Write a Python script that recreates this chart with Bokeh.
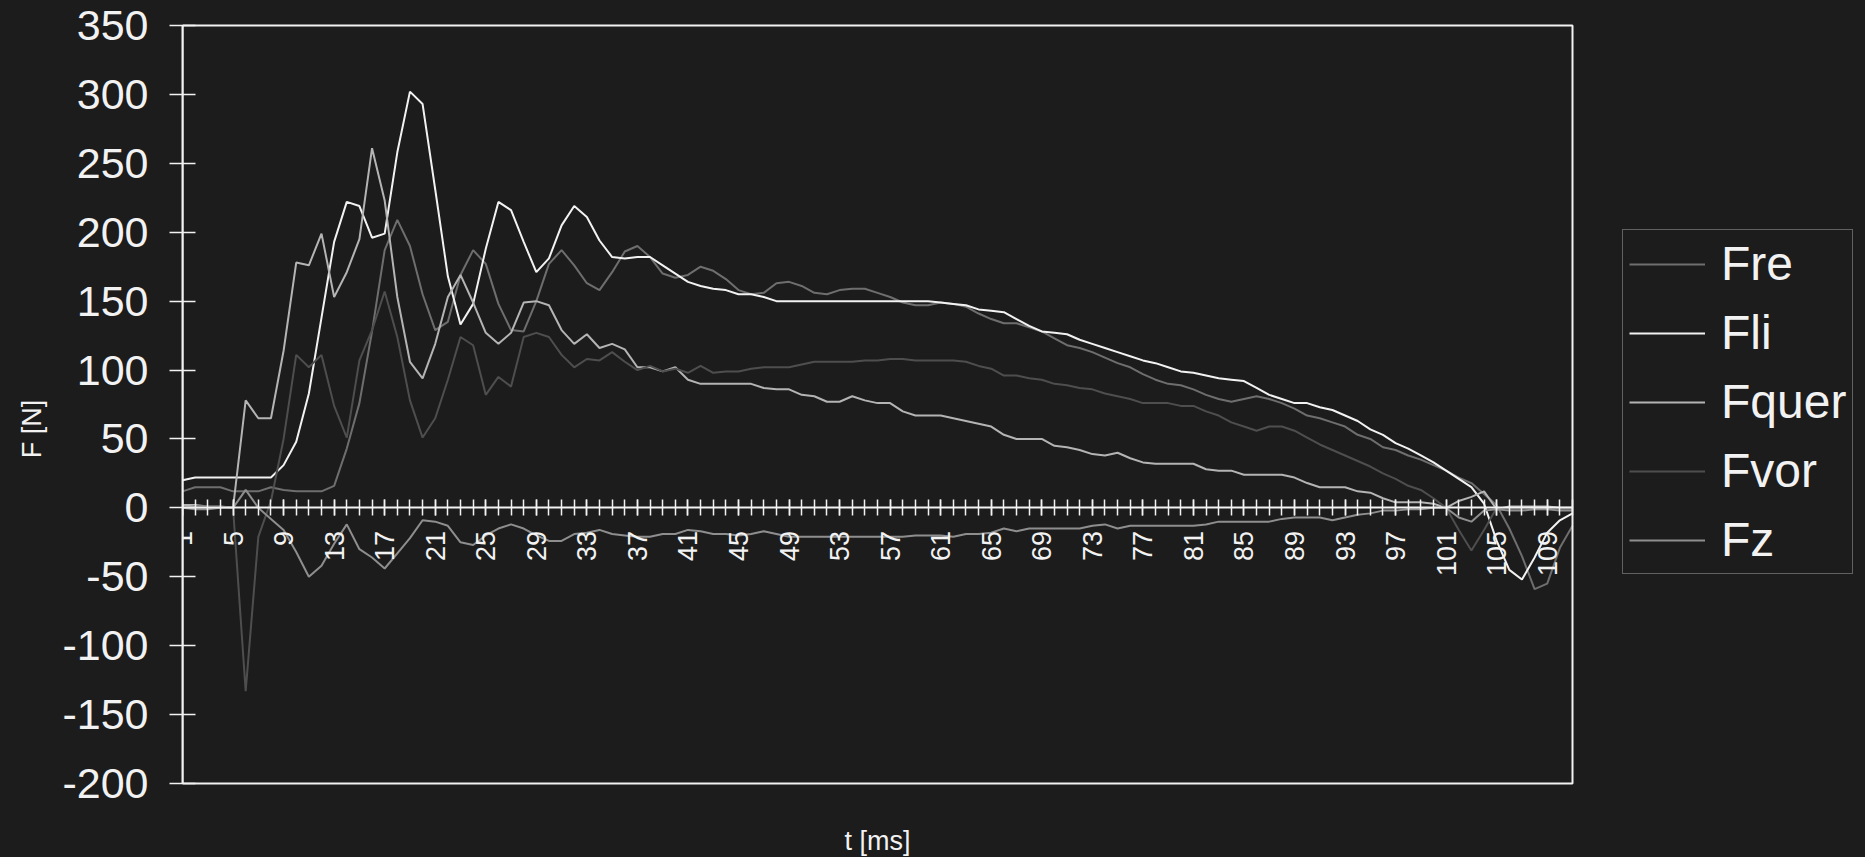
import math
from bokeh.plotting import figure
from bokeh.models import (ColumnDataSource, Range1d, LinearAxis, FixedTicker,
                          Legend, LegendItem, Label, BoxAnnotation)
from bokeh.embed import file_html
from bokeh.resources import INLINE

# ---------------- data ----------------
t = list(range(1, 112))
tick_labels = list(range(1, 110, 4))
y_ticks = list(range(-200, 351, 50))

Fre = [12, 15, 15, 15, 12, 12, 12, 15, 13, 12,
       12, 12, 16, 43, 76, 128, 187, 209, 190, 155,
       129, 135, 169, 187, 177, 148, 129, 128, 150, 177,
       187, 176, 163, 158, 171, 186, 190, 182, 170, 167,
       169, 175, 172, 166, 158, 155, 156, 163, 164, 161,
       156, 155, 158, 159, 159, 156, 153, 149, 147, 147,
       149, 148, 146, 141, 137, 134, 134, 131, 128, 123,
       118, 116, 113, 109, 105, 102, 97, 93, 90, 89,
       86, 82, 79, 77, 79, 81, 79, 76, 72, 67,
       65, 62, 59, 53, 50, 44, 42, 38, 35, 31,
       27, 22, 18, 10, 2, -15, -35, -59, -55, -29,
       -13]

Fli = [20, 22, 22, 22, 22, 22, 22, 22, 31, 48,
       83, 138, 193, 222, 219, 196, 199, 258, 302, 293,
       231, 168, 133, 148, 188, 222, 216, 193, 171, 181,
       205, 219, 211, 194, 182, 181, 182, 182, 176, 170,
       164, 161, 159, 158, 155, 155, 153, 150, 150, 150,
       150, 150, 150, 150, 150, 150, 150, 150, 150, 150,
       149, 148, 147, 144, 143, 142, 137, 132, 128, 127,
       126, 122, 119, 116, 113, 110, 107, 105, 102, 99,
       98, 96, 94, 93, 92, 87, 82, 79, 76, 76,
       73, 71, 67, 63, 57, 53, 47, 43, 38, 33,
       27, 21, 15, 3, -24, -45, -52, -36, -18, -9,
       -4]

Fquer = [2, 2, 1, 1, 0, 78, 65, 65, 114, 178,
         176, 199, 153, 171, 195, 261, 223, 153, 106, 94,
         119, 153, 169, 149, 127, 119, 127, 149, 150, 147,
         129, 119, 126, 116, 119, 115, 102, 102, 99, 102,
         93, 90, 90, 90, 90, 90, 87, 86, 86, 82,
         81, 77, 77, 81, 78, 76, 76, 70, 67, 67,
         67, 65, 63, 61, 59, 53, 50, 50, 50, 45,
         44, 42, 39, 38, 40, 36, 33, 32, 32, 32,
         32, 28, 27, 27, 24, 24, 24, 24, 22, 18,
         15, 15, 15, 12, 11, 7, 4, 4, 4, 3,
         0, 5, 8, 12, -1, 1, 1, 1, 1, 0,
         0]

Fvor = [0, 1, 1, 1, 0, -133, -21, 5, 50, 111,
        102, 111, 74, 51, 107, 129, 157, 124, 78, 51,
        65, 93, 124, 118, 82, 95, 88, 124, 127, 124,
        111, 102, 108, 107, 113, 106, 100, 103, 99, 101,
        98, 103, 98, 99, 99, 101, 102, 102, 102, 104,
        106, 106, 106, 106, 107, 107, 108, 108, 107, 107,
        107, 107, 106, 103, 101, 96, 96, 94, 93, 90,
        89, 87, 86, 83, 81, 79, 76, 76, 76, 74,
        74, 70, 67, 62, 59, 56, 59, 59, 56, 51,
        46, 42, 38, 34, 30, 25, 21, 16, 13, 7,
        0, -16, -31, -16, 0, -1, -1, -1, -1, -1,
        -1]

Fz = [0, -1, -1, 0, 0, 13, 0, -8, -16, -32,
      -50, -42, -26, -12, -30, -36, -44, -33, -22, -9,
      -10, -13, -25, -27, -20, -15, -12, -15, -20, -24,
      -24, -19, -18, -16, -19, -20, -21, -21, -19, -19,
      -16, -17, -19, -19, -20, -19, -17, -19, -21, -21,
      -21, -21, -21, -21, -21, -21, -21, -21, -20, -20,
      -20, -21, -19, -19, -18, -15, -17, -15, -15, -15,
      -15, -15, -13, -12, -15, -13, -13, -13, -13, -13,
      -13, -12, -10, -10, -10, -10, -10, -8, -7, -7,
      -7, -9, -7, -5, -4, -2, -2, -1, -1, 0,
      0, -7, -10, -2, -1, -2, -2, -1, -1, -2,
      -2]

series_names = ["Fre", "Fli", "Fquer", "Fvor", "Fz"]
series_colors = ["#6e6e6e", "#f2f2f2", "#b4b4b4", "#4e4e4e", "#8e8e8e"]

# ---------------- layout (pixels) ----------------
W, H = 1865, 857
PLOT_L, PLOT_T, PLOT_R, PLOT_B = 182, 25, 1572, 783   # drawn plot box on screen
x_lo, x_hi = t[0], t[-1]
y_lo, y_hi = y_ticks[0], y_ticks[-1]
px_x = (PLOT_R - PLOT_L) / (x_hi - x_lo)
px_y = (PLOT_B - PLOT_T) / (y_hi - y_lo)
x_end = x_hi + (W - PLOT_R) / px_x
y_start = y_lo - (H - PLOT_B) / px_y
y_end = y_hi + PLOT_T / px_y

BG = "#1c1c1c"
FG = "#f2f2f2"
FONT = "Liberation Sans"

p = figure(width=W, height=H, output_backend="svg", toolbar_location=None,
           x_range=Range1d(x_lo, x_end), y_range=Range1d(y_start, y_end),
           x_axis_type=None,
           min_border_left=PLOT_L, min_border_right=0,
           min_border_top=0, min_border_bottom=0)
p.background_fill_color = BG
p.border_fill_color = BG
p.outline_line_color = None
p.ygrid.visible = False

# plot-area border
p.add_layout(BoxAnnotation(left=x_lo, right=x_hi, bottom=y_lo, top=y_hi,
                           fill_color=None, fill_alpha=0,
                           line_color=FG, line_alpha=1.0, line_width=2))

src = ColumnDataSource(dict(t=t, Fre=Fre, Fli=Fli, Fquer=Fquer, Fvor=Fvor, Fz=Fz))
renderers = []
for name, col in zip(series_names, series_colors):
    r = p.line("t", name, source=src, line_color=col, line_width=2)
    renderers.append(r)

# y axis
ya = p.yaxis[0]
ya.ticker = FixedTicker(ticks=y_ticks)
ya.bounds = (y_lo, y_hi)
ya.major_label_overrides = {v: str(v) for v in y_ticks}
ya.major_label_text_font = FONT
ya.major_label_text_font_size = "43px"
ya.major_label_text_color = FG
ya.major_label_standoff = 21
ya.major_tick_in = 13
ya.major_tick_out = 13
ya.major_tick_line_color = FG
ya.major_tick_line_width = 1.5
ya.minor_tick_line_color = None
ya.axis_line_color = FG
ya.axis_line_width = 2
ya.axis_label = "F [N]"
ya.axis_label_text_font = FONT
ya.axis_label_text_font_size = "27px"
ya.axis_label_text_font_style = "normal"
ya.axis_label_text_color = FG
ya.axis_label_standoff = 12

# x axis drawn on the zero line
xa = LinearAxis(ticker=FixedTicker(ticks=tick_labels, minor_ticks=t),
                fixed_location=0, bounds=(x_lo, x_hi))
xa.major_label_orientation = math.pi / 2
xa.major_label_text_font = FONT
xa.major_label_text_font_size = "27px"
xa.major_label_text_color = FG
xa.major_label_standoff = 15
xa.major_tick_in = 8
xa.major_tick_out = 8
xa.minor_tick_in = 8
xa.minor_tick_out = 8
xa.major_tick_line_color = FG
xa.minor_tick_line_color = FG
xa.major_tick_line_width = 1.5
xa.minor_tick_line_width = 1.5
xa.axis_line_color = FG
xa.axis_line_width = 2
p.add_layout(xa, "below")

# x axis title at the bottom
p.add_layout(Label(x=(PLOT_R - PLOT_L) / 2, y=H - 840, x_units="screen", y_units="screen",
                   text="t [ms]", text_font=FONT, text_font_size="27px", text_color=FG,
                   text_align="center", text_baseline="middle"))

# legend
legend = Legend(items=[LegendItem(label=n, renderers=[r]) for n, r in zip(series_names, renderers)],
                location=(1622 - PLOT_L, H - 574), orientation="vertical")
legend.label_text_font = FONT
legend.label_text_font_size = "48px"
legend.label_text_color = FG
legend.glyph_width = 76
legend.glyph_height = 50
legend.label_height = 50
legend.label_standoff = 16
legend.spacing = 14
legend.padding = 6
legend.margin = 0
legend.border_line_color = "#a6a6a6"
legend.border_line_width = 1.5
legend.background_fill_color = BG
legend.background_fill_alpha = 1.0
p.add_layout(legend, "center")

html = file_html(p, INLINE)
html = html.replace("<body>", '<body style="background-color:#1c1c1c;">')
open("out.html", "w").write(html)
